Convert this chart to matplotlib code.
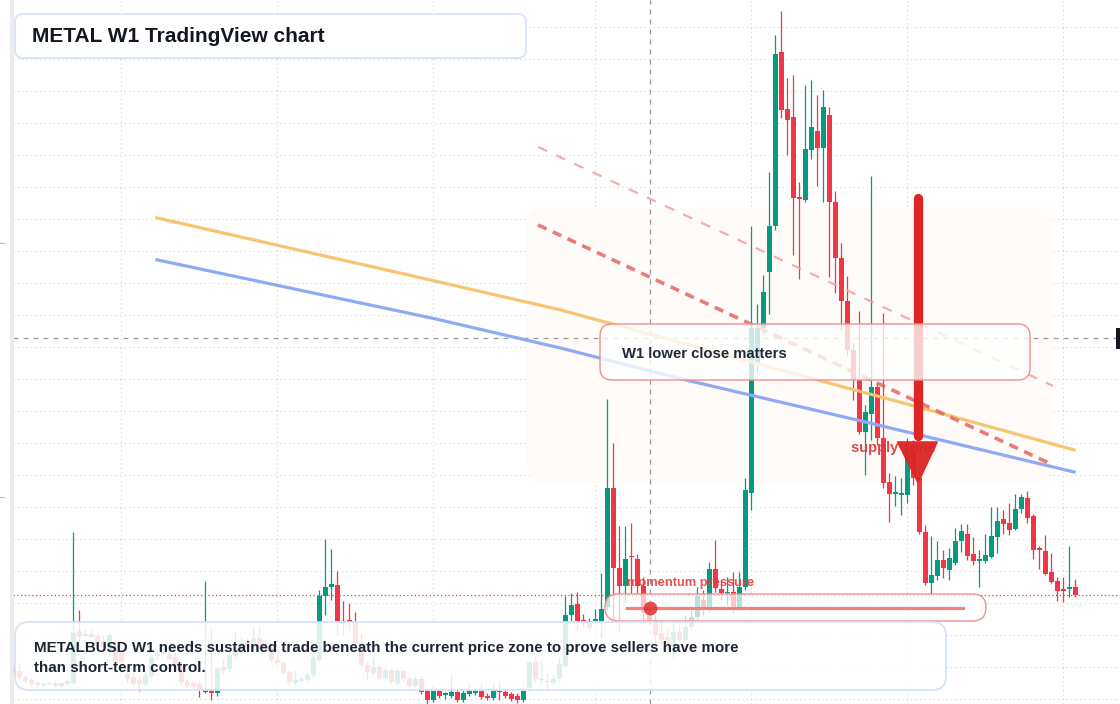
import numpy as np
import matplotlib
matplotlib.use('Agg')
import matplotlib.pyplot as plt
from matplotlib.patches import FancyBboxPatch, Polygon, Rectangle

plt.rcParams['font.family'] = ['Liberation Sans', 'DejaVu Sans']

# weekly METALBUSD candles, first visible week index
first_week = 2

opens = [
    .300, .288, .269, .259, .250, .244, .247, .250, .241, .247,
    .250, .413, .397, .403, .397, .381, .347, .369, .347, .278,
    .269, .259, .247, .272, .334, .341, .341, .331, .303, .253,
    .250, .247, .222, .228, .219, .300, .294, .334, .359, .378,
    .363, .391, .375, .359, .322, .313, .284, .250, .256, .259,
    .275, .322, .522, .550, .556, .444, .444, .441, .375, .306,
    .281, .300, .266, .291, .250, .288, .263, .241, .263, .225,
    .197, .225, .213, .209, .222, .197, .216, .219, .225, .209,
    .203, .225, .222, .216, .209, .197, .234, .316, .259, .256,
    .250, .263, .303, .463, .497, .447, .444, .444, .444, .488,
    .859, .609, .553, .647, .638, .553, .469, .447, .406, .394,
    .363, .409, .384, .425, .456, .509, .478, .606, .544, .531,
    .534, .488, .550, .844, 1.250, 1.359, 1.534, 1.678, 2.222, 2.044,
    2.019, 1.766, 1.759, 1.916, 1.975, 1.922, 2.025, 1.753, 1.578, 1.444,
    1.291, 1.197, 1.034, 1.091, 1.175, 1.016, .878, .841, .838, .838,
    .978, .891, .722, .563, .584, .634, .603, .625, .694, .716,
    .653, .631, .631, .644, .706, .763, .750, .731, .794, .828,
    .772, .672, .663, .597, .569, .541, .544, .550,
]
highs = [
    .309, .313, .275, .266, .256, .250, .253, .256, .253, .263,
    .722, .478, .419, .416, .409, .400, .406, .384, .359, .297,
    .284, .272, .284, .338, .353, .359, .350, .347, .322, .263,
    .259, .259, .569, .422, .300, .325, .347, .409, .394, .391,
    .425, .425, .384, .369, .338, .322, .291, .291, .272, .284,
    .338, .541, .700, .669, .600, .506, .500, .472, .406, .316,
    .331, .309, .300, .297, .297, .297, .272, .272, .272, .231,
    .244, .231, .222, .275, .228, .228, .247, .234, .250, .219,
    .250, .253, .228, .222, .219, .234, .322, .334, .322, .281,
    .275, .331, .522, .531, .534, .466, .453, .481, .594, 1.138,
    1.000, .741, .741, .750, .653, .581, .484, .463, .447, .416,
    .438, .431, .463, .478, .550, .541, .628, .697, .572, .581,
    .597, .597, .891, 1.678, 1.434, 1.525, 1.847, 2.275, 2.350, 2.141,
    2.150, 1.816, 2.119, 2.134, 2.088, 2.103, 2.050, 1.788, 1.625, 1.522,
    1.313, 1.413, 1.119, 1.834, 1.188, 1.406, .906, .897, .891, 1.016,
    1.009, .916, .744, .709, .694, .666, .672, .734, .747, .747,
    .706, .666, .716, .800, .800, .791, .813, .841, .841, .850,
    .778, .678, .713, .656, .581, .581, .678, .575,
]
lows = [
    .272, .259, .250, .241, .238, .241, .244, .238, .238, .244,
    .247, .384, .394, .391, .366, .353, .334, .303, .297, .253,
    .241, .225, .241, .266, .322, .334, .319, .294, .244, .234,
    .231, .206, .219, .197, .209, .281, .288, .328, .350, .353,
    .356, .353, .350, .316, .306, .275, .244, .244, .250, .253,
    .269, .319, .463, .509, .400, .400, .416, .369, .300, .259,
    .275, .259, .259, .247, .244, .256, .234, .234, .216, .184,
    .191, .203, .200, .203, .191, .191, .209, .213, .200, .197,
    .197, .197, .203, .194, .188, .191, .228, .256, .250, .228,
    .244, .256, .300, .444, .416, .425, .409, .434, .391, .478,
    .447, .409, .503, .531, .531, .447, .431, .369, .369, .353,
    .328, .369, .378, .416, .447, .463, .472, .534, .509, .494,
    .472, .478, .541, .791, 1.222, 1.344, 1.403, 1.666, 2.016, 1.900,
    1.588, 1.513, 1.753, 1.888, 1.803, 1.753, 1.519, 1.469, 1.353, 1.275,
    1.134, 1.028, .900, 1.009, .994, .859, .753, .803, .775, .813,
    .869, .716, .556, .525, .572, .578, .572, .619, .659, .634,
    .619, .550, .625, .641, .656, .716, .713, .728, .781, .750,
    .638, .606, .588, .563, .506, .503, .519, .519,
]
closes = [
    .281, .269, .256, .247, .244, .247, .250, .241, .250, .256,
    .406, .394, .403, .394, .378, .363, .400, .313, .316, .263,
    .247, .247, .275, .331, .341, .347, .325, .300, .253, .241,
    .238, .231, .228, .219, .297, .288, .338, .363, .375, .359,
    .391, .359, .359, .322, .313, .281, .253, .259, .263, .275,
    .328, .522, .550, .559, .444, .438, .441, .375, .306, .284,
    .300, .266, .291, .253, .288, .263, .241, .263, .222, .197,
    .225, .209, .216, .222, .197, .219, .225, .225, .206, .203,
    .225, .222, .209, .200, .197, .225, .316, .263, .263, .253,
    .263, .309, .463, .494, .444, .444, .422, .450, .481, .859,
    .609, .553, .638, .644, .553, .469, .447, .400, .384, .363,
    .409, .384, .425, .456, .522, .478, .606, .547, .531, .534,
    .488, .550, .853, 1.359, 1.359, 1.472, 1.678, 2.216, 2.041, 2.009,
    1.766, 1.763, 1.919, 1.988, 1.922, 2.050, 1.753, 1.578, 1.444, 1.291,
    1.197, 1.034, 1.097, 1.175, 1.016, .875, .841, .847, .844, .978,
    .891, .722, .563, .588, .634, .609, .641, .694, .725, .647,
    .631, .638, .650, .709, .756, .747, .728, .794, .831, .766,
    .666, .666, .591, .566, .538, .538, .550, .525,
]

# half-year separators (week index)
grid_weeks = [20, 46, 72, 99, 125, 151, 177]

# moving averages drawn on the chart (week index, price)
ma_slow_x = [25.95, 72.0, 93.1, 134.8, 152.6, 178.8]
ma_slow_y = [1.703, 1.507, 1.416, 1.203, 1.113, 0.978]
ma_fast_x = [25.95, 72.0, 93.1, 114.0, 142.5, 178.8]
ma_fast_y = [1.572, 1.389, 1.297, 1.197, 1.072, 0.909]

# drawn trendlines
trend_x = [89.45, 175.3]
trend_main = [1.681, 0.931]
trend_upper = [1.925, 1.178]

supply_zone = (87.6, 175.1, 0.875, 1.735)
arrow_week = 152.8
arrow_from, arrow_head, arrow_to = 1.766, 1.003, 0.875
cross_week, cross_price = 108.1, 1.328

fig = plt.figure(figsize=(11.2, 7.04), dpi=100)
fig.patch.set_facecolor('white')
ax = fig.add_axes([13 / 1120, 0, 1107 / 1120, 1])
ax.set_xlim(1.95, 186.45)
ax.set_ylim(0.184, 2.384)
for s in ax.spines.values():
    s.set_visible(False)
ax.set_yticks(np.arange(0.2, 2.35, 0.1))
ax.set_xticks(grid_weeks)
ax.tick_params(length=0, labelleft=False, labelbottom=False)
ax.grid(color='#d2d2d2', linestyle=(0, (1, 3)), linewidth=0.8)
ax.set_axisbelow(True)

# supply zone shading
x0, x1, y0, y1 = supply_zone
ax.add_patch(FancyBboxPatch((x0, y0), x1 - x0, y1 - y0,
                            boxstyle='round,pad=0,rounding_size=3.3',
                            mutation_aspect=0.01875,
                            fc='#fefbf8', ec='none', zorder=1))

ax.axvline(cross_week, color='#9a9a9a', ls=(0, (4, 4)), lw=0.9, zorder=1.5)
ax.axhline(cross_price, color='#9a9a9a', ls=(0, (4, 4)), lw=0.9, zorder=1.5)

# candles
o = np.array(opens)
h = np.array(highs)
l = np.array(lows)
c = np.array(closes)
x = np.arange(len(o)) + first_week
cols = np.where(c >= o, '#089981', '#f23645')
ax.vlines(x, l, h, colors=cols, lw=0.9, zorder=3)
ax.bar(x, np.maximum(np.abs(c - o), 0.004), bottom=np.minimum(o, c),
       width=0.75, color=cols, lw=0, zorder=3.1)

ax.axhline(c[-1], color='#f23645', ls=(0, (1, 2)), lw=0.9, zorder=2)

ax.plot(ma_slow_x, ma_slow_y, color='#f8c471', lw=2.3, zorder=4)
ax.plot(ma_fast_x, ma_fast_y, color='#8eaaf4', lw=2.3, zorder=4)
ax.plot(trend_x, trend_upper, color='#f2a0a0', lw=1.6, dashes=(4.5, 4.5), alpha=0.85, zorder=4)
ax.plot(trend_x, trend_main, color='#e45c5c', lw=2.6, dashes=(2.6, 1.9), alpha=0.8, zorder=4)

ax.text(141.6, 0.984, 'supply zone', color='#e23b3b', fontsize=10.5,
        fontweight='bold', va='center', ha='left', alpha=0.95, zorder=5)

ax.plot([arrow_week, arrow_week], [arrow_from, arrow_head + 0.02], color='#dc2626',
        lw=6.7, solid_capstyle='round', zorder=6)
ax.add_patch(Polygon([(arrow_week - 3.45, arrow_head), (arrow_week + 3.2, arrow_head),
                      (arrow_week, arrow_to)], closed=True, color='#dc2626',
                     alpha=0.95, zorder=6))

# annotation layer in pixel space
ov = fig.add_axes([0, 0, 1, 1])
ov.set_xlim(0, 1120)
ov.set_ylim(704, 0)
ov.axis('off')
ov.patch.set_alpha(0)

ov.add_patch(Rectangle((10, 0), 3.5, 704, color='#ebebeb', lw=0))
ov.plot([0, 4], [243, 243], color='#b8b8b8', lw=0.8)
ov.plot([0, 4], [497, 497], color='#b8b8b8', lw=0.8)
ov.add_patch(Rectangle((1116, 328), 4, 21, color='#131722', lw=0))

ov.add_patch(FancyBboxPatch((15, 14), 511, 44, boxstyle='round,pad=0,rounding_size=8',
                            fc='white', ec='#d3e2f6', lw=1.2))
ov.text(32, 36.5, 'METAL W1 TradingView chart', fontsize=15, fontweight='bold',
        color='#131722', va='center', ha='left')

ov.add_patch(FancyBboxPatch((600, 324), 430, 56, boxstyle='round,pad=0,rounding_size=12',
                            fc=(1, 1, 1, 0.78), ec='#ef8f8f', lw=1.0))
ov.text(622, 353.5, 'W1 lower close matters', fontsize=10.7, fontweight='bold',
        color='#1f2937', va='center', ha='left')

ov.text(627, 583, 'momentum pressure', fontsize=9.3, fontweight='bold',
        color='#e53e3e', va='center', ha='left', alpha=0.9)
ov.add_patch(FancyBboxPatch((605, 594), 381, 27, boxstyle='round,pad=0,rounding_size=13.5',
                            fc=(1, 1, 1, 0.72), ec='#ef8f8f', lw=1.0))
ov.plot([627, 963], [607.5, 607.5], color='#ef8080', lw=2.3)
ov.plot([650], [607.5], 'o', ms=10, color='#e03030', alpha=0.85, mew=0)

ov.add_patch(FancyBboxPatch((15, 622), 931, 68, boxstyle='round,pad=0,rounding_size=14',
                            fc=(1, 1, 1, 0.86), ec='#d3e2f6', lw=1.2))
ov.text(34, 648, 'METALBUSD W1 needs sustained trade beneath the current price zone to prove sellers have more',
        fontsize=10.9, fontweight='bold', color='#1e2533', va='center', ha='left')
ov.text(34, 668, 'than short-term control.', fontsize=10.9, fontweight='bold',
        color='#1e2533', va='center', ha='left')

fig.savefig('out.png', dpi=100)
